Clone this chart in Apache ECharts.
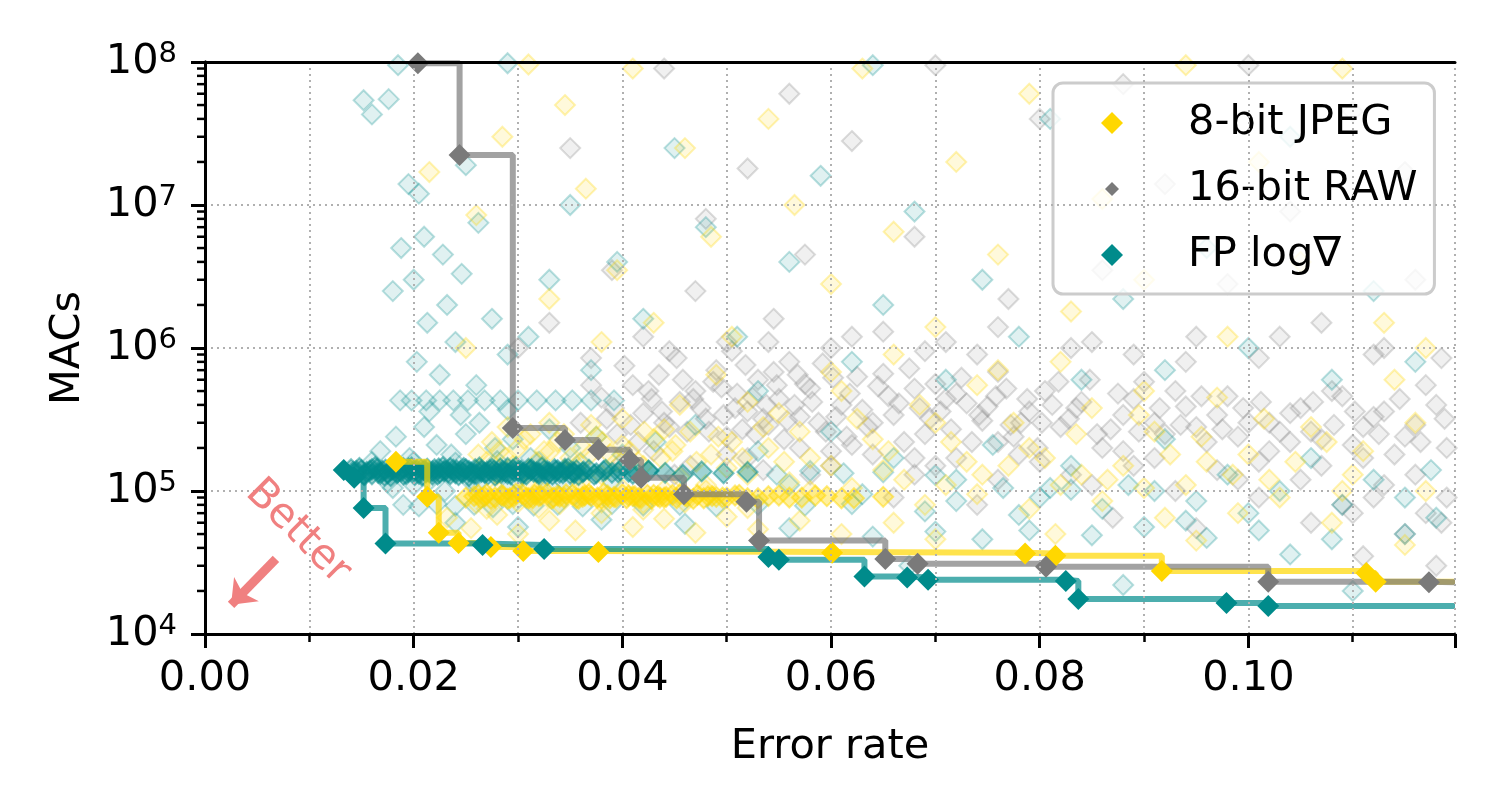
<!DOCTYPE html>
<html>
<head>
<meta charset="utf-8">
<script src="https://cdn.jsdelivr.net/npm/echarts@6/dist/echarts.min.js"></script>
<style>
html,body{margin:0;padding:0;background:#fff}
#chart{width:1500px;height:810px}
</style>
</head>
<body>
<div id="chart"></div>
<script>
// legend names
var seriesNames = ['8-bit JPEG', '16-bit RAW', 'FP log∇'];
var X_MAX = 0.1198;

// pareto fronts
var jpegFrontX = [0.0183, 0.0213, 0.0224, 0.0243, 0.0274, 0.0305, 0.0377, 0.0601, 0.0786, 0.0815, 0.0917, 0.1113, 0.1122];
var jpegFrontY = [1.6e5, 9.1e4, 5.1e4, 4.33e4, 4.06e4, 3.8e4, 3.75e4, 3.7e4, 3.65e4, 3.52e4, 2.76e4, 2.67e4, 2.32e4];
var rawFrontX = [0.0204, 0.0244, 0.0295, 0.0345, 0.0377, 0.0407, 0.0418, 0.0459, 0.0519, 0.0531, 0.0652, 0.0683, 0.0806, 0.1019, 0.1173];
var rawFrontY = [9.8e7, 2.24e7, 2.76e5, 2.27e5, 1.94e5, 1.65e5, 1.24e5, 9.5e4, 8.4e4, 4.5e4, 3.35e4, 3.1e4, 2.95e4, 2.32e4, 2.3e4];
var fpFrontX = [0.0133, 0.0143, 0.0152, 0.0173, 0.0266, 0.0325, 0.0540, 0.0550, 0.0632, 0.0673, 0.0693, 0.0825, 0.0837, 0.0979, 0.1019];
var fpFrontY = [1.4e5, 1.24e5, 7.6e4, 4.3e4, 4.19e4, 3.93e4, 3.45e4, 3.3e4, 2.52e4, 2.48e4, 2.4e4, 2.35e4, 1.76e4, 1.65e4, 1.57e4];

// all trials: crowded bands
var fpCore = [
  [0.0145,1.38e5],[0.0152,1.30e5],[0.0160,1.42e5],[0.0166,1.34e5],[0.0172,1.28e5],[0.0178,1.40e5],[0.0184,1.33e5],[0.0190,1.45e5],
  [0.0195,1.36e5],[0.0201,1.29e5],[0.0207,1.41e5],[0.0212,1.35e5],[0.0218,1.30e5],[0.0224,1.44e5],[0.0229,1.37e5],[0.0235,1.31e5],
  [0.0241,1.40e5],[0.0247,1.34e5],[0.0253,1.27e5],[0.0259,1.42e5],[0.0265,1.36e5],[0.0271,1.30e5],[0.0277,1.39e5],[0.0284,1.33e5],
  [0.0290,1.45e5],[0.0297,1.37e5],[0.0304,1.31e5],[0.0312,1.40e5],[0.0320,1.34e5],[0.0328,1.29e5],[0.0336,1.38e5],[0.0345,1.43e5],
  [0.0354,1.33e5],[0.0363,1.37e5],[0.0373,1.30e5],[0.0384,1.41e5],[0.0396,1.35e5],[0.0410,1.32e5],[0.0425,1.39e5],[0.0441,1.34e5],
  [0.0458,1.30e5],[0.0476,1.37e5],[0.0497,1.33e5],[0.0520,1.36e5],
  [0.0140,1.42e5],[0.0145,1.33e5],[0.0150,1.40e5],[0.0155,1.36e5],[0.0160,1.31e5],[0.0165,1.43e5],[0.0170,1.38e5],[0.0175,1.33e5],
  [0.0180,1.41e5],[0.0185,1.36e5],[0.0190,1.30e5],[0.0195,1.44e5],[0.0200,1.37e5],[0.0205,1.32e5],[0.0210,1.40e5],[0.0215,1.35e5],
  [0.0220,1.42e5],[0.0225,1.34e5],[0.0230,1.39e5],[0.0235,1.45e5],[0.0240,1.33e5],[0.0245,1.38e5],[0.0250,1.42e5],[0.0255,1.35e5],
  [0.0260,1.31e5],[0.0265,1.40e5],[0.0270,1.36e5],[0.0275,1.43e5],[0.0280,1.34e5],[0.0285,1.38e5],[0.0290,1.32e5],[0.0295,1.41e5],
  [0.0300,1.37e5],[0.0305,1.34e5],[0.0310,1.43e5],[0.0315,1.36e5],[0.0320,1.31e5],[0.0325,1.39e5],[0.0330,1.35e5],[0.0335,1.42e5],
  [0.0340,1.34e5],[0.0345,1.38e5],[0.0350,1.32e5],[0.0356,1.40e5],[0.0362,1.35e5],[0.0368,1.41e5],[0.0375,1.33e5],[0.0382,1.38e5],
  [0.0390,1.34e5],[0.0398,1.40e5],[0.0406,1.36e5],[0.0415,1.31e5],[0.0425,1.38e5],
  [0.0142,1.36e5],[0.0148,1.45e5],[0.0153,1.29e5],[0.0158,1.39e5],[0.0163,1.47e5],[0.0168,1.32e5],[0.0173,1.41e5],[0.0178,1.27e5],
  [0.0183,1.44e5],[0.0188,1.37e5],[0.0193,1.31e5],[0.0198,1.46e5],[0.0203,1.40e5],[0.0208,1.28e5],[0.0213,1.43e5],[0.0218,1.37e5],
  [0.0223,1.30e5],[0.0228,1.47e5],[0.0233,1.35e5],[0.0238,1.41e5],[0.0243,1.29e5],[0.0248,1.45e5],[0.0253,1.38e5],[0.0258,1.32e5],
  [0.0263,1.46e5],[0.0268,1.34e5],[0.0273,1.40e5],[0.0278,1.28e5],[0.0283,1.44e5],[0.0288,1.36e5],[0.0293,1.31e5],[0.0298,1.47e5],
  [0.0303,1.39e5],[0.0308,1.30e5],[0.0313,1.42e5],[0.0318,1.35e5],[0.0323,1.46e5],[0.0328,1.37e5],[0.0333,1.30e5],[0.0338,1.40e5],
  [0.0343,1.33e5],[0.0348,1.44e5],[0.0353,1.36e5],[0.0358,1.29e5]
];
var jpegCore = [
  [0.0250,9.0e4],[0.0262,9.4e4],[0.0274,8.8e4],[0.0286,9.2e4],[0.0298,9.6e4],[0.0310,8.9e4],[0.0322,9.3e4],[0.0334,9.0e4],
  [0.0346,9.5e4],[0.0358,8.8e4],[0.0370,9.2e4],[0.0382,9.6e4],[0.0394,9.0e4],[0.0406,9.3e4],[0.0418,8.9e4],[0.0430,9.4e4],
  [0.0442,9.1e4],[0.0455,9.5e4],[0.0468,8.8e4],[0.0482,9.2e4],[0.0496,9.0e4],[0.0512,9.4e4],[0.0530,8.9e4],[0.0550,9.3e4],
  [0.0572,9.0e4],[0.0596,9.2e4],[0.0622,8.9e4],[0.0650,9.1e4],[0.0268,9.1e4],[0.0292,8.9e4],[0.0316,9.4e4],[0.0340,9.1e4],
  [0.0364,9.3e4],[0.0388,8.9e4],[0.0412,9.2e4],[0.0436,9.0e4],[0.0460,9.3e4],[0.0490,9.1e4],
  [0.0258,9.2e4],[0.0264,8.9e4],[0.0270,9.5e4],[0.0278,9.0e4],[0.0284,9.3e4],[0.0290,8.8e4],[0.0296,9.1e4],[0.0304,9.5e4],
  [0.0308,9.0e4],[0.0314,8.9e4],[0.0320,9.2e4],[0.0328,9.6e4],[0.0332,8.8e4],[0.0338,9.3e4],[0.0344,9.0e4],[0.0352,9.4e4],
  [0.0356,8.9e4],[0.0362,9.1e4],[0.0368,9.5e4],[0.0376,9.0e4],[0.0380,8.8e4],[0.0386,9.3e4],[0.0392,9.1e4],[0.0400,9.5e4],
  [0.0404,8.9e4],[0.0410,9.2e4],[0.0416,9.0e4],[0.0424,9.4e4],[0.0428,8.8e4],[0.0434,9.2e4],[0.0440,9.0e4],[0.0448,9.4e4],
  [0.0452,8.9e4],[0.0462,9.1e4],[0.0472,9.4e4],[0.0478,8.9e4],[0.0486,9.2e4],[0.0500,9.0e4],[0.0508,9.3e4],[0.0520,8.9e4],
  [0.0540,9.2e4],[0.0560,9.0e4],[0.0585,9.3e4],[0.0610,8.9e4]
];

// all trials: spread
var fpCloud = [
  [0.0548,1.30e5],[0.0580,1.38e5],[0.0612,1.33e5],[0.0650,1.35e5],[0.0700,1.29e5],[0.0765,1.05e5],[0.0830,1.02e5],[0.0910,1.0e5],
  [0.0187,4.3e5],[0.0198,4.3e5],[0.0212,4.3e5],[0.0225,4.3e5],[0.0238,4.3e5],[0.0252,4.3e5],[0.0268,4.3e5],[0.0283,4.3e5],
  [0.0300,4.3e5],[0.0318,4.3e5],[0.0336,4.3e5],[0.0352,4.3e5],[0.0370,4.3e5],[0.0392,4.3e5],[0.0215,3.6e5],[0.0245,3.4e5],[0.0290,3.7e5],
  [0.0190,8.0e4],[0.0205,7.8e4],[0.0222,8.1e4],[0.0240,7.9e4],[0.0258,8.0e4],[0.0276,7.7e4],[0.0295,8.1e4],[0.0315,7.9e4],
  [0.0338,8.0e4],[0.0362,7.8e4],[0.0390,8.1e4],[0.0420,7.9e4],[0.0455,8.0e4],[0.0490,7.8e4],[0.0530,8.0e4],[0.0575,7.9e4],[0.0620,8.1e4],
  [0.0168,1.9e5],[0.0183,2.4e5],[0.0196,1.7e5],[0.0210,2.8e5],[0.0222,2.1e5],[0.0236,1.8e5],[0.0250,2.5e5],[0.0263,3.0e5],
  [0.0278,2.0e5],[0.0295,2.3e5],[0.0312,1.7e5],[0.0330,2.7e5],[0.0350,2.0e5],[0.0375,2.4e5],[0.0400,1.8e5],[0.0432,2.2e5],[0.0470,2.9e5],
  [0.0180,1.05e5],[0.0200,1.1e5],[0.0230,1.0e5],[0.0260,1.12e5],[0.0290,1.02e5],[0.0330,1.08e5],
  [0.0160,1.6e5],[0.0200,1.6e5],[0.0240,1.58e5],[0.0280,1.62e5],[0.0320,1.6e5],[0.0360,1.58e5],[0.0175,1.15e5],[0.0215,1.18e5],
  [0.0255,1.16e5],[0.0300,1.18e5],[0.0345,1.15e5],[0.0390,1.17e5],
  [0.0240,6.0e4],[0.0300,5.6e4],[0.0380,6.3e4],[0.0460,5.9e4],[0.0560,5.5e4],[0.0640,4.8e4],[0.0700,5.2e4],[0.0745,4.6e4],
  [0.0790,5.3e4],[0.0850,4.9e4],[0.0900,5.6e4],[0.0960,4.7e4],[0.1010,5.3e4],[0.1080,4.6e4],[0.1150,5.0e4],[0.1180,6.5e4],
  [0.0675,3.0e4],[0.0880,2.2e4],[0.1040,3.6e4],[0.1100,2.0e4],
  [0.0530,1.9e5],[0.0560,1.1e5],[0.0600,2.6e5],[0.0630,9.5e4],[0.0660,1.7e5],[0.0690,7.2e4],[0.0720,1.2e5],[0.0755,2.1e5],
  [0.0780,6.8e4],[0.0800,9.0e4],[0.0830,1.5e5],[0.0860,7.5e4],[0.0885,1.1e5],[0.0920,2.3e5],[0.0950,8.5e4],[0.0980,1.3e5],
  [0.1000,7.0e4],[0.1030,1.0e5],[0.1060,1.7e5],[0.1090,8.0e4],[0.1120,1.2e5],[0.1150,9.0e4],[0.1175,1.4e5],[0.0720,8.5e4],
  [0.0810,1.05e5],[0.0940,6.2e4],
  [0.0152,5.4e7],[0.0160,4.3e7],[0.0176,5.5e7],[0.0195,1.4e7],[0.0205,1.2e7],[0.0188,5.0e6],[0.0210,6.0e6],[0.0228,4.5e6],
  [0.0246,3.3e6],[0.0262,7.5e6],[0.0232,2.0e6],[0.0213,1.5e6],[0.0240,1.1e6],[0.0275,1.6e6],[0.0290,9.0e5],[0.0203,8.0e5],
  [0.0225,6.5e5],[0.0260,5.5e5],[0.0310,1.2e6],[0.0330,3.0e6],[0.0350,1.0e7],[0.0370,7.0e5],[0.0395,4.0e6],[0.0420,1.6e6],
  [0.0450,2.5e7],[0.0480,7.0e6],[0.0510,1.2e6],[0.0530,5.0e5],[0.0560,4.0e6],[0.0590,1.6e7],[0.0620,8.0e5],[0.0650,2.0e6],
  [0.0680,9.0e6],[0.0710,6.0e5],[0.0745,3.0e6],[0.0780,1.2e6],[0.0810,4.0e7],[0.0840,6.0e5],[0.0880,2.2e6],[0.0920,7.0e5],
  [0.0960,5.0e6],[0.1000,1.0e6],[0.1040,3.0e7],[0.1080,6.0e5],[0.1120,2.5e6],[0.1160,8.0e5],[0.0185,9.5e7],[0.0290,9.8e7],
  [0.0640,9.5e7],[0.0250,1.9e7],[0.0200,3.0e6],[0.0180,2.5e6]
];
var jpegCloud = [
  [0.0262,1.8e5],[0.0275,2.2e5],[0.0288,1.7e5],[0.0300,2.0e5],[0.0312,2.5e5],[0.0325,1.9e5],[0.0338,2.2e5],[0.0350,1.7e5],
  [0.0362,2.0e5],[0.0375,2.4e5],[0.0388,1.8e5],[0.0400,2.1e5],[0.0415,1.6e5],[0.0430,2.3e5],[0.0448,1.9e5],[0.0465,2.6e5],
  [0.0485,1.8e5],[0.0505,2.2e5],[0.0290,2.8e5],[0.0330,3.0e5],[0.0370,2.9e5],
  [0.0270,1.6e5],[0.0282,1.9e5],[0.0295,1.5e5],[0.0306,2.3e5],[0.0318,1.6e5],[0.0331,1.9e5],[0.0344,2.5e5],[0.0356,1.5e5],
  [0.0369,1.8e5],[0.0381,2.2e5],[0.0394,1.6e5],[0.0407,1.9e5],[0.0421,2.6e5],[0.0437,1.7e5],[0.0451,2.1e5],[0.0471,1.6e5],
  [0.0492,2.4e5],[0.0515,1.7e5],[0.0535,2.8e5],[0.0555,1.6e5],
  [0.0260,8.2e4],[0.0300,8.3e4],[0.0340,8.1e4],[0.0380,8.3e4],[0.0420,8.2e4],[0.0460,8.3e4],[0.0280,1.02e5],[0.0320,1.03e5],
  [0.0360,1.01e5],[0.0400,1.03e5],[0.0440,1.02e5],[0.0480,1.01e5],
  [0.0650,1.4e5],[0.0710,1.1e5],[0.0770,1.5e5],[0.0840,1.3e5],[0.0900,1.05e5],[0.0960,1.6e5],[0.1020,1.2e5],[0.1090,1.0e5],
  [0.0345,1.4e5],[0.0380,1.3e5],[0.0420,1.5e5],[0.0455,1.25e5],[0.0500,1.45e5],[0.0540,2.0e5],[0.0570,2.6e5],[0.0600,1.5e5],
  [0.0625,3.2e5],[0.0655,1.9e5],[0.0685,4.0e5],[0.0715,2.2e5],[0.0745,1.3e5],[0.0775,3.0e5],[0.0805,1.7e5],[0.0835,2.5e5],
  [0.0865,1.2e5],[0.0895,3.4e5],[0.0925,1.8e5],[0.0955,2.4e5],[0.0985,1.3e5],[0.1015,3.2e5],[0.1045,1.6e5],[0.1075,2.2e5],
  [0.1110,1.9e5],[0.1160,3.0e5],[0.0400,3.2e5],[0.0440,2.7e5],[0.0520,4.2e5],[0.0600,6.8e5],[0.0660,9.0e5],[0.0740,5.5e5],
  [0.0820,8.0e5],[0.0900,5.0e5],[0.0280,1.3e5],[0.0310,1.1e5],[0.0360,1.15e5],[0.0480,1.1e5],[0.0560,1.15e5],[0.0620,1.05e5],
  [0.0232,6.5e4],[0.0255,5.5e4],[0.0280,6.8e4],[0.0300,5.0e4],[0.0330,6.2e4],[0.0355,5.3e4],[0.0380,7.0e4],[0.0410,5.6e4],
  [0.0440,6.4e4],[0.0470,5.1e4],[0.0500,6.6e4],[0.0530,5.4e4],[0.0570,6.2e4],[0.0610,5.0e4],[0.0660,6.0e4],[0.0700,4.6e4],
  [0.0270,7.5e4],[0.0320,7.6e4],[0.0420,7.4e4],[0.0520,7.6e4],
  [0.0520,1.3e5],[0.0550,3.5e5],[0.0580,1.7e5],[0.0610,5.0e5],[0.0640,2.3e5],[0.0670,1.2e5],[0.0700,3.0e5],[0.0730,1.6e5],
  [0.0760,7.0e5],[0.0790,2.0e5],[0.0820,1.1e5],[0.0850,3.8e5],[0.0880,1.5e5],[0.0910,2.6e5],[0.0940,1.1e5],[0.0970,4.5e5],
  [0.1000,1.8e5],[0.1030,9.0e4],[0.1060,2.8e5],[0.1100,1.3e5],[0.1140,6.0e5],[0.1170,1.0e5],[0.0455,4.0e5],[0.0490,6.5e5],
  [0.0580,1.0e5],[0.0690,8.0e4],[0.0740,9.5e4],[0.0790,7.5e4],[0.0860,8.5e4],[0.0920,6.5e4],[0.0990,7.0e4],[0.1080,6.0e4],
  [0.1150,4.2e4],[0.0815,5.0e4],[0.0950,4.5e4],
  [0.0215,1.7e7],[0.0260,8.5e6],[0.0285,3.0e7],[0.0310,9.6e7],[0.0330,2.2e6],[0.0345,5.0e7],[0.0365,1.3e7],[0.0395,3.5e6],
  [0.0410,9.0e7],[0.0430,1.5e6],[0.0460,2.5e7],[0.0485,6.0e6],[0.0505,1.2e6],[0.0540,4.0e7],[0.0565,1.0e7],[0.0600,2.8e6],
  [0.0630,9.0e7],[0.0660,6.5e6],[0.0700,1.4e6],[0.0720,2.0e7],[0.0760,4.5e6],[0.0790,6.0e7],[0.0830,1.8e6],[0.0860,1.1e7],
  [0.0900,3.0e6],[0.0940,9.5e7],[0.0980,1.2e6],[0.1010,2.0e7],[0.1050,4.0e6],[0.1090,9.0e7],[0.1130,1.5e6],[0.1170,1.0e6],
  [0.0250,1.0e6],[0.0380,1.1e6]
];
var rawCloud = [
  [0.0360,3.0e5],[0.0380,4.5e5],[0.0395,2.5e5],[0.0410,5.5e5],[0.0420,3.5e5],[0.0435,6.5e5],[0.0445,2.8e5],[0.0455,4.2e5],
  [0.0470,5.0e5],[0.0480,3.2e5],[0.0490,7.0e5],[0.0500,2.4e5],[0.0510,4.8e5],[0.0520,3.6e5],[0.0530,6.0e5],[0.0540,2.9e5],
  [0.0550,4.4e5],[0.0560,8.0e5],[0.0570,3.3e5],[0.0580,5.2e5],[0.0595,2.6e5],[0.0610,4.0e5],[0.0625,6.3e5],[0.0640,3.0e5],
  [0.0655,4.6e5],[0.0670,2.2e5],[0.0685,3.8e5],[0.0700,5.6e5],[0.0715,2.7e5],[0.0730,4.1e5],[0.0745,3.1e5],[0.0760,6.8e5],
  [0.0775,2.4e5],[0.0790,3.6e5],[0.0805,5.0e5],[0.0820,2.8e5],[0.0840,4.2e5],[0.0860,2.0e5],[0.0880,3.4e5],[0.0900,5.8e5],
  [0.0920,2.5e5],[0.0940,3.9e5],[0.0960,2.2e5],[0.0980,4.6e5],[0.1000,3.0e5],[0.1020,1.9e5],[0.1040,3.5e5],[0.1060,2.6e5],
  [0.1080,5.0e5],[0.1100,2.1e5],[0.1120,3.3e5],[0.1140,1.8e5],[0.1160,2.9e5],[0.1180,4.0e5],
  [0.0370,5.5e5],[0.0385,3.2e5],[0.0402,7.5e5],[0.0415,2.2e5],[0.0428,4.4e5],[0.0440,3.0e5],[0.0452,8.5e5],[0.0462,2.6e5],
  [0.0475,3.8e5],[0.0487,5.8e5],[0.0497,3.4e5],[0.0505,9.5e5],[0.0515,2.7e5],[0.0525,4.5e5],[0.0535,3.2e5],[0.0545,6.8e5],
  [0.0555,2.3e5],[0.0565,4.0e5],[0.0575,5.6e5],[0.0588,3.0e5],[0.0602,6.2e5],[0.0615,2.4e5],[0.0630,3.7e5],[0.0645,5.4e5],
  [0.0660,3.4e5],[0.0675,7.2e5],[0.0690,2.5e5],[0.0705,3.6e5],[0.0720,4.8e5],[0.0735,2.2e5],[0.0750,3.9e5],[0.0768,5.2e5],
  [0.0782,3.0e5],[0.0798,2.0e5],[0.0812,4.0e5],[0.0828,3.2e5],[0.0848,6.0e5],[0.0868,2.7e5],[0.0890,4.4e5],[0.0910,3.0e5],
  [0.0930,5.0e5],[0.0950,2.8e5],[0.0970,3.4e5],[0.0990,2.4e5],[0.1012,4.2e5],[0.1030,2.6e5],[0.1050,3.8e5],[0.1070,2.3e5],
  [0.1090,4.6e5],[0.1110,2.8e5],[0.1130,3.6e5],[0.1150,2.4e5],[0.1170,5.5e5],[0.1190,2.0e5],
  [0.0392,3.8e5],[0.0408,2.9e5],[0.0425,5.0e5],[0.0438,3.6e5],[0.0458,6.0e5],[0.0468,4.4e5],[0.0483,2.6e5],[0.0495,5.3e5],
  [0.0508,3.8e5],[0.0518,7.6e5],[0.0528,2.5e5],[0.0538,4.0e5],[0.0548,5.5e5],[0.0558,3.1e5],[0.0568,6.5e5],[0.0582,4.2e5],
  [0.0592,7.8e5],[0.0605,3.3e5],[0.0618,4.8e5],[0.0635,2.8e5],[0.0650,6.6e5],[0.0665,4.1e5],[0.0680,5.2e5],[0.0695,3.2e5],
  [0.0710,4.4e5],[0.0725,6.2e5],[0.0742,3.4e5],[0.0758,4.6e5],[0.0772,2.9e5],[0.0788,4.4e5],[0.0802,3.0e5],[0.0818,5.8e5],
  [0.0835,3.8e5],[0.0855,2.5e5],[0.0875,4.8e5],[0.0895,2.6e5],[0.0915,3.8e5],[0.0935,2.9e5],[0.0955,4.6e5],[0.0975,2.7e5],
  [0.0995,3.8e5],[0.1020,3.0e5],[0.1040,2.2e5],[0.1062,4.2e5],[0.1082,2.9e5],[0.1102,3.6e5],[0.1125,2.5e5],[0.1145,4.4e5],
  [0.1165,2.2e5],[0.1188,3.2e5],
  [0.0540,1.1e6],[0.0620,1.2e6],[0.0690,9.5e5],[0.0760,1.4e6],[0.0850,1.1e6],[0.0940,8.0e5],[0.1030,1.2e6],[0.1120,9.0e5],
  [0.0600,1.9e5],[0.0760,2.2e5],[0.0880,1.9e5],[0.1010,1.6e5],[0.1110,1.7e5],[0.0680,1.7e5],
  [0.0450,1.3e5],[0.0520,1.7e5],[0.0580,1.3e5],[0.0620,2.1e5],[0.0700,1.5e5],[0.0780,1.8e5],[0.0830,1.3e5],[0.0910,1.7e5],
  [0.0990,1.2e5],[0.1070,1.5e5],[0.1120,9.0e4],[0.1160,1.3e5],[0.1190,9.0e4],[0.1185,6.0e4],[0.1100,7.0e4],
  [0.0400,1.6e5],[0.0430,1.9e5],[0.0465,1.5e5],[0.0500,1.8e5],[0.0535,1.4e5],[0.0570,2.0e5],[0.0600,1.5e5],[0.0640,1.8e5],
  [0.0680,1.3e5],[0.0720,1.7e5],[0.0760,1.2e5],[0.0800,1.6e5],[0.0850,1.1e5],[0.0890,1.5e5],[0.0930,1.0e5],[0.0970,1.4e5],
  [0.1010,9.0e4],[0.1050,1.2e5],[0.1090,8.0e4],[0.1130,1.1e5],[0.1170,7.0e4],[0.0870,6.5e4],[0.0950,5.5e4],[0.1060,6.0e4],
  [0.1150,5.0e4],[0.0740,8.0e4],[0.0660,9.0e4],[0.1110,3.5e4],[0.1180,3.0e4],
  [0.0300,1.0e6],[0.0330,1.5e6],[0.0370,8.5e5],[0.0390,3.5e6],[0.0420,1.2e6],[0.0445,9.5e5],[0.0470,2.5e6],[0.0500,1.1e6],
  [0.0520,1.8e7],[0.0545,1.6e6],[0.0575,4.5e6],[0.0600,1.0e6],[0.0620,2.8e7],[0.0650,1.3e6],[0.0680,6.0e6],[0.0710,1.1e6],
  [0.0740,9.0e5],[0.0770,2.2e6],[0.0800,4.0e7],[0.0830,1.0e6],[0.0860,3.5e6],[0.0890,9.0e5],[0.0920,1.4e7],[0.0950,1.2e6],
  [0.0980,2.8e6],[0.1010,8.5e5],[0.1040,9.0e6],[0.1070,1.5e6],[0.1100,4.5e7],[0.1130,1.0e6],[0.1160,3.0e6],[0.1185,8.5e5],
  [0.0440,9.0e7],[0.0560,6.0e7],[0.0700,9.5e7],[0.0880,7.0e7],[0.1000,9.5e7],[0.1150,1.7e7],[0.0480,8.0e6],[0.0350,2.5e7]
];

// annotation anchors (data coords)
var betterTextAt = [0.0089, 5.17e4];
var betterArrowFrom = [0.0068, 3.35e4];
var betterArrowTo = [0.0025, 1.6e4];

var FONT = 'DejaVu Sans';
var FS = 41.5;
var colors = { jpeg: '#ffd700', raw: '#7a7a7a', fp: '#008b8b' };
var gridLine = { color: '#b0b0b0', width: 2, type: [2, 4] };

function frontData(xs, ys) {
  var d = xs.map(function (x, i) { return [x, ys[i]]; });
  // line runs on to the right edge
  d.push({ value: [X_MAX, ys[ys.length - 1]], symbol: 'none' });
  return d;
}

function cloud(data, rgb, fillA, edgeA) {
  return {
    type: 'scatter',
    data: data,
    symbol: 'diamond',
    symbolSize: 20,
    silent: true,
    itemStyle: {
      color: 'rgba(' + rgb + ',' + fillA + ')',
      borderColor: 'rgba(' + rgb + ',' + edgeA + ')',
      borderWidth: 2,
      opacity: 1
    },
    z: 2
  };
}

function front(name, data, color) {
  return {
    name: name,
    type: 'line',
    step: 'end',
    data: data,
    symbol: 'diamond',
    symbolSize: 22,
    showAllSymbol: true,
    lineStyle: { color: color, width: 6, opacity: 0.7 },
    itemStyle: { color: color },
    z: 4
  };
}

var yMinor = [];
for (var e = 4; e < 8; e++) {
  for (var k = 2; k <= 9; k++) yMinor.push([0, k * Math.pow(10, e)]);
}

var frameAxis = { show: true, lineStyle: { color: '#000', width: 3 } };

var chart = echarts.init(document.getElementById('chart'));
var option = {
  animation: false,
  backgroundColor: '#fff',
  textStyle: { fontFamily: FONT },
  grid: { left: 205, right: 45, top: 62, bottom: 176 },
  legend: {
    orient: 'vertical',
    left: 1053,
    top: 83,
    padding: [19, 17, 18, 48],
    itemWidth: 22,
    itemHeight: 22,
    itemGap: 24,
    backgroundColor: 'rgba(255,255,255,0.8)',
    borderColor: '#cccccc',
    borderWidth: 3,
    borderRadius: 10,
    textStyle: { fontFamily: FONT, fontSize: FS, color: '#000', lineHeight: 41, padding: [0, 0, 0, 60] },
    data: [
      { name: seriesNames[0], icon: 'diamond' },
      { name: seriesNames[1], icon: 'path://M0,0M22,22M4,11L11,4L18,11L11,18Z' },
      { name: seriesNames[2], icon: 'diamond' }
    ]
  },
  xAxis: [{
    type: 'value',
    min: 0,
    max: X_MAX,
    interval: 0.02,
    name: 'Error rate',
    nameLocation: 'middle',
    nameGap: 92,
    nameTextStyle: { fontFamily: FONT, fontSize: FS, color: '#000' },
    axisLine: frameAxis,
    axisTick: { length: 14, lineStyle: { color: '#000', width: 3 } },
    minorTick: { show: true, splitNumber: 2, length: 8, lineStyle: { color: '#000', width: 2.5 } },
    splitLine: { show: true, lineStyle: gridLine },
    minorSplitLine: { show: true, lineStyle: gridLine },
    axisLabel: {
      fontFamily: FONT, fontSize: FS, color: '#000', margin: 24, showMaxLabel: false,
      formatter: function (v) { return v.toFixed(2); }
    },
    z: 5
  }, {
    type: 'value', position: 'top', min: 0, max: X_MAX,
    axisLine: frameAxis, axisTick: { show: false }, axisLabel: { show: false }, splitLine: { show: false }, z: 5
  }],
  yAxis: [{
    type: 'log',
    logBase: 10,
    min: 1e4,
    max: 1e8,
    name: 'MACs',
    nameLocation: 'middle',
    nameGap: 116,
    nameTextStyle: { fontFamily: FONT, fontSize: FS, color: '#000' },
    axisLine: frameAxis,
    axisTick: { length: 14, lineStyle: { color: '#000', width: 3 } },
    splitLine: { show: true, lineStyle: gridLine },
    axisLabel: {
      margin: 28,
      formatter: function (v) {
        return '{b|10}{s|' + Math.round(Math.log10(v)) + '}';
      },
      rich: {
        b: { fontFamily: FONT, fontSize: FS, color: '#000', lineHeight: 44 },
        s: { fontFamily: FONT, fontSize: 29, color: '#000', lineHeight: 29, verticalAlign: 'top', padding: [0, 0, 6, 0] }
      }
    },
    z: 5
  }, {
    type: 'log', logBase: 10, position: 'right', min: 1e4, max: 1e8,
    axisLine: frameAxis, axisTick: { show: false }, axisLabel: { show: false }, splitLine: { show: false }, z: 5
  }],
  series: [
    cloud(rawCloud, '128,128,128', 0.12, 0.28),
    cloud(fpCloud, '0,139,139', 0.12, 0.28),
    cloud(jpegCloud, '255,215,0', 0.14, 0.3),
    cloud(fpCore, '0,139,139', 0.38, 0.5),
    cloud(jpegCore, '255,215,0', 0.38, 0.5),
    front(seriesNames[0], frontData(jpegFrontX, jpegFrontY), colors.jpeg),
    front(seriesNames[1], frontData(rawFrontX, rawFrontY), colors.raw),
    front(seriesNames[2], frontData(fpFrontX, fpFrontY), colors.fp),
    {
      // log minor ticks on the y axis
      type: 'custom',
      silent: true,
      clip: false,
      data: yMinor,
      z: 10,
      renderItem: function (params, api) {
        var p = api.coord([0, api.value(1)]);
        return {
          type: 'line',
          shape: { x1: p[0] - 8, y1: p[1], x2: p[0], y2: p[1] },
          style: { stroke: '#000', lineWidth: 2.5 }
        };
      },
      markLine: {
        silent: true,
        symbol: ['none', 'arrow'],
        symbolSize: [26, 22],
        label: { show: false },
        lineStyle: { color: '#f08080', width: 9, type: 'solid' },
        data: [[{ coord: betterArrowFrom }, { coord: betterArrowTo }]]
      }
    }
  ]
};
chart.setOption(option);

var pos = chart.convertToPixel({ xAxisIndex: 0, yAxisIndex: 0 }, betterTextAt);
chart.setOption({
  graphic: [{
    type: 'text',
    x: pos[0],
    y: pos[1],
    rotation: -Math.PI / 4,
    silent: true,
    style: {
      text: 'Better',
      fill: '#f08080',
      font: FS + 'px "DejaVu Sans"',
      align: 'center',
      verticalAlign: 'middle'
    },
    z: 20
  }]
});
</script>
</body>
</html>
